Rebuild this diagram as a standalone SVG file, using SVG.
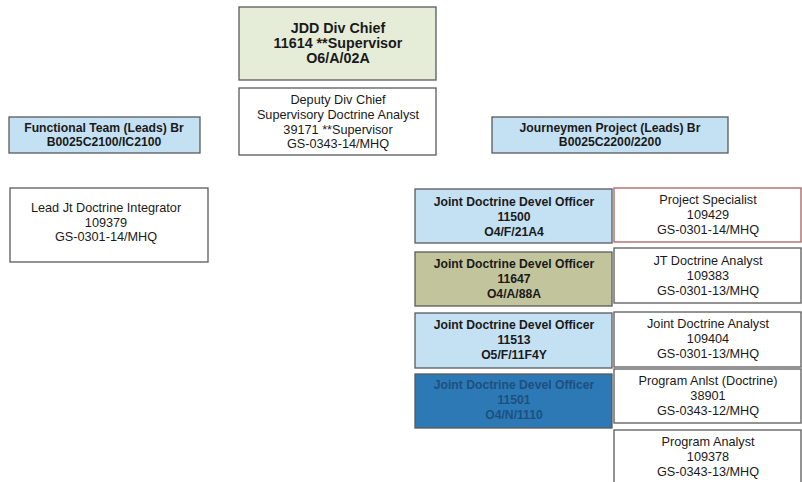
<svg xmlns="http://www.w3.org/2000/svg" width="802" height="482" viewBox="0 0 802 482">
<style>
.box{stroke:#5a5a5a;stroke-width:1.3}
.w{fill:#ffffff}
.g{fill:#e5ecd8}
.lb{fill:#c4e1f3}
.ol{fill:#c2c59c}
.db{fill:#2c79b6}
text{font-family:"Liberation Sans",Arial,sans-serif;text-anchor:middle;fill:#1a1a1a}
.b{font-weight:bold}
.r{font-size:12.7px}
.s{font-size:12.2px}
.t{font-size:14.3px}
.dk{fill:#1d5080}
</style>
<rect width="802" height="482" fill="#ffffff"/>
<g id="connectors"></g>
<g id="jdd-chief">
<rect class="box g" x="239" y="7" width="197" height="73"/>
<text class="b t" x="338" y="33">JDD Div Chief</text>
<text class="b t" x="338" y="48">11614 **Supervisor</text>
<text class="b t" x="338" y="63">O6/A/02A</text>
</g>
<g id="deputy">
<rect class="box w" x="239" y="88" width="197" height="67"/>
<text class="r" x="338" y="104">Deputy Div Chief</text>
<text class="r" x="338" y="119">Supervisory Doctrine Analyst</text>
<text class="r" x="338" y="134">39171 **Supervisor</text>
<text class="r" x="338" y="148">GS-0343-14/MHQ</text>
</g>
<g id="functional-team">
<rect class="box lb" x="9" y="117" width="191" height="36"/>
<text class="b s" x="104" y="132">Functional Team (Leads) Br</text>
<text class="b s" x="104" y="146">B0025C2100/IC2100</text>
</g>
<g id="lead-integrator">
<rect class="box w" x="10" y="188" width="198" height="74"/>
<text class="r" x="106" y="212">Lead Jt Doctrine Integrator</text>
<text class="r" x="106" y="227">109379</text>
<text class="r" x="106" y="241">GS-0301-14/MHQ</text>
</g>
<g id="journeymen">
<rect class="box lb" x="492" y="117" width="236" height="36"/>
<text class="b s" x="610" y="132">Journeymen Project (Leads) Br</text>
<text class="b s" x="610" y="146">B0025C2200/2200</text>
</g>
<g id="officer-11500">
<rect class="box lb" x="415" y="189" width="197" height="54"/>
<text class="b s" x="514" y="206">Joint Doctrine Devel Officer</text>
<text class="b s" x="514" y="221">11500</text>
<text class="b s" x="514" y="236">O4/F/21A4</text>
</g>
<g id="officer-11647">
<rect class="box ol" x="415" y="252" width="197" height="54"/>
<text class="b s" x="514" y="268">Joint Doctrine Devel Officer</text>
<text class="b s" x="514" y="283">11647</text>
<text class="b s" x="514" y="298">O4/A/88A</text>
</g>
<g id="officer-11513">
<rect class="box lb" x="415" y="313" width="197" height="55"/>
<text class="b s" x="514" y="329">Joint Doctrine Devel Officer</text>
<text class="b s" x="514" y="344">11513</text>
<text class="b s" x="514" y="359">O5/F/11F4Y</text>
</g>
<g id="officer-11501">
<rect class="box db" x="415" y="374" width="197" height="54"/>
<text class="b s dk" x="514" y="389">Joint Doctrine Devel Officer</text>
<text class="b s dk" x="514" y="404">11501</text>
<text class="b s dk" x="514" y="419">O4/N/1110</text>
</g>
<g id="project-specialist">
<rect class="box w" x="614" y="188" width="187" height="54" style="stroke:#a86060"/>
<text class="r" x="708" y="204">Project Specialist</text>
<text class="r" x="708" y="219">109429</text>
<text class="r" x="708" y="234">GS-0301-14/MHQ</text>
</g>
<g id="jt-doctrine-analyst">
<rect class="box w" x="614" y="248" width="187" height="55"/>
<text class="r" x="708" y="265">JT Doctrine Analyst</text>
<text class="r" x="708" y="280">109383</text>
<text class="r" x="708" y="295">GS-0301-13/MHQ</text>
</g>
<g id="joint-doctrine-analyst">
<rect class="box w" x="614" y="312" width="187" height="55"/>
<text class="r" x="708" y="328">Joint Doctrine Analyst</text>
<text class="r" x="708" y="343">109404</text>
<text class="r" x="708" y="358">GS-0301-13/MHQ</text>
</g>
<g id="program-anlst">
<rect class="box w" x="614" y="369" width="187" height="54"/>
<text class="r" x="708" y="385">Program Anlst (Doctrine)</text>
<text class="r" x="708" y="400">38901</text>
<text class="r" x="708" y="415">GS-0343-12/MHQ</text>
</g>
<g id="program-analyst">
<rect class="box w" x="614" y="430" width="187" height="60"/>
<text class="r" x="708" y="446">Program Analyst</text>
<text class="r" x="708" y="461">109378</text>
<text class="r" x="708" y="476">GS-0343-13/MHQ</text>
</g>
</svg>
